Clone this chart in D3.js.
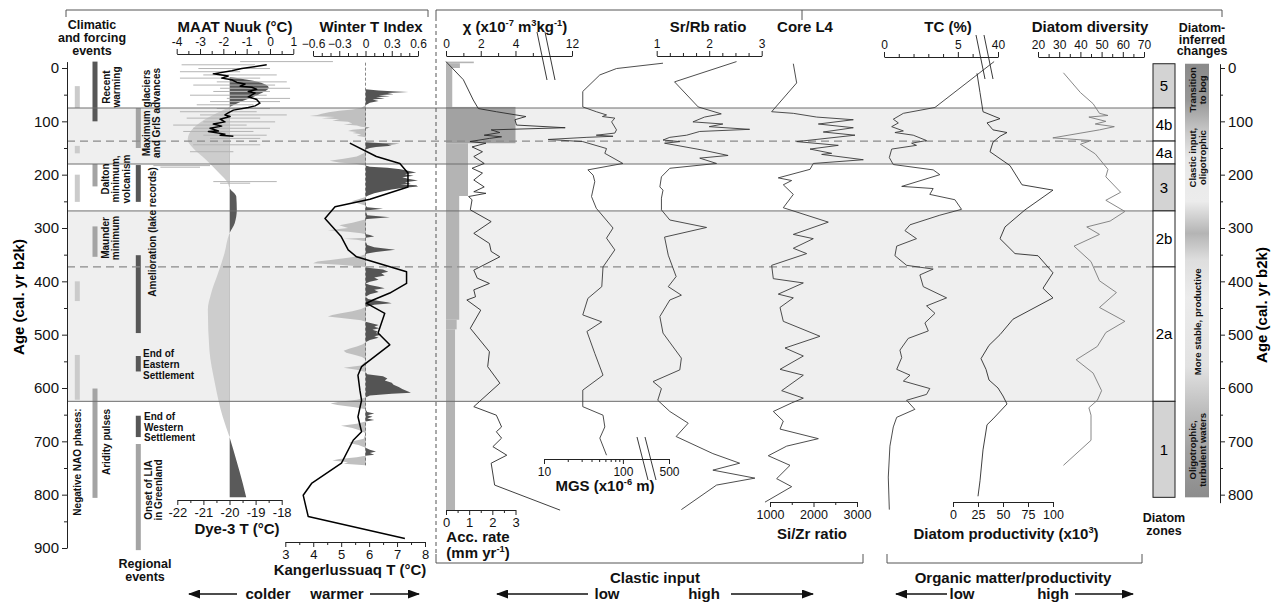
<!DOCTYPE html>
<html><head><meta charset="utf-8">
<script src="https://cdn.jsdelivr.net/npm/d3@7/dist/d3.min.js"></script>
<style>html,body{margin:0;padding:0;background:#fff;}svg{display:block;}</style>
</head><body>
<svg id="chart" width="1271" height="602"></svg>
<script>
// ================= DATA =================
const ageTicks = [0,100,200,300,400,500,600,700,800,900];
const ageMinor = [50,150,250,350,450,550,650,750,850];
const rightAgeTicks = [0,100,200,300,400,500,600,700,800];
const rightAgeMinor = [50,150,250,350,450,550,650,750];

const zoneNames  = ['5','4b','4a','3','2b','2a','1'];
const zoneTop    = [-8,75,137,180,268,373,625];
const zoneBottom = [75,137,180,268,373,625,805];
const zoneGrey   = [true,false,false,true,false,false,true];
const solidBounds  = [75,180,268,625];
const dashedBounds = [137,373];
const bandStart = [75,268];
const bandEnd   = [180,625];

// events: column (0 NAO, 1 forcing, 2 regional), start age, end age, tone (0 light,1 mid,2 dark)
const eventCol   = [0,0,0,0,0, 1,1,1,1, 2,2,2,2,2,2];
const eventStart = [34,146,200,400,538, -12,180,297,601, 75,182,351,540,652,705];
const eventEnd   = [75,160,251,437,622, 100,222,354,806, 150,251,497,569,692,904];
const eventTone  = [0,0,0,0,0, 2,1,1,1, 1,2,2,2,2,1];

// MAAT Nuuk (°C): range bars and smoothed record
const maatRangeAge = [-12,-6,1,7,13,19,26,32,38,44,51,57,63,69,76,82,88,94,101,107,113,119,126,132,144,157,183,186,213,216];
const maatRangeLo  = [-1.28,-3.79,-3.07,-3.86,-2.86,-3.86,-2.28,-3.29,-2.14,-2.43,-3.43,-1.85,-2.57,-3.14,-2.28,-3.86,-3.0,-3.57,-2.86,-4.15,-3.29,-3.72,-2.86,-2.57,-3.29,-3.43,-5.0,-4.7,-2.43,-2.14];
const maatRangeHi  = [2.7,-0.64,0.0,-1.28,0.29,-0.42,0.72,0.22,0.86,0.0,-0.14,0.86,0.43,-0.71,0.0,-0.57,0.72,-0.42,0.22,-1.0,0.0,-0.71,-0.14,-0.42,-0.42,-1.57,-2.57,-3.0,0.29,-0.85];
const maatLine = [[-6,-0.14],[1,-1.21],[5,-1.64],[11,-2.43],[15,-1.79],[19,-2.07],[22,-1.64],[27,-1.42],[30,-1.07],[34,-1.28],[36,-0.78],[40,-0.57],[44,-0.93],[47,-0.64],[54,-0.93],[59,-0.57],[66,-0.43],[71,-0.64],[74,-0.93],[79,-1.57],[84,-1.79],[88,-1.93],[91,-1.71],[96,-2.14],[101,-1.93],[105,-2.43],[109,-2.07],[113,-2.57],[118,-2.21],[119,-2.64],[124,-1.93],[126,-2.14],[128,-1.57]];

// Dye-3 T (°C)
const dye3 = [[17,-20],[25,-19.0],[37,-18.5],[50,-18.9],[62,-19.5],[73,-20],[85,-20.5],[103,-21.15],[122,-21.53],[135,-21.6],[150,-21.4],[172,-20.9],[197,-20.4],[216,-20.06],[225,-20],[241,-19.74],[266,-19.72],[291,-19.8],[310,-20],[347,-20.19],[385,-20.44],[422,-20.7],[453,-20.83],[529,-20.77],[591,-20.56],[654,-20.26],[692,-20],[735,-19.74],[779,-19.49],[805,-19.36]];

// Winter T index
const winterT = [[40,0],[42,0.15],[44,0.35],[45,0.49],[47,0.25],[49,0.32],[51,0.15],[53,0.28],[55,0.12],[57,0.22],[59,0.08],[62,0.15],[65,0.05],[68,0.02],[70,0],
[75,-0.05],[78,-0.15],[80,-0.3],[83,-0.42],[86,-0.5],[88,-0.55],[90,-0.64],[92,-0.35],[94,-0.5],[96,-0.3],[99,-0.38],[101,-0.2],[104,-0.15],[106,-0.25],[108,-0.1],[110,-0.05],[112,0.05],[114,-0.02],[116,-0.15],[118,-0.2],[120,-0.1],[122,-0.15],[124,-0.05],[127,-0.1],[130,0],
[139,0],[141,0.2],[142,0.39],[144,0.25],[146,0.3],[148,0.12],[150,0.05],[153,0],[160,-0.02],[166,-0.1],[170,-0.25],[174,-0.41],[177,-0.3],[180,-0.1],[183,0],
[185,0.05],[187,0.25],[190,0.4],[193,0.5],[196,0.58],[199,0.45],[202,0.55],[205,0.42],[208,0.5],[211,0.6],[214,0.45],[217,0.52],[218,0.4],[220,0.58],[222,0.6],[225,0.42],[228,0.3],[231,0.2],[235,0.1],[239,0.03],[242,0],
[246,-0.08],[250,-0.16],[254,-0.08],[258,0],[261,0.02],[264,0.2],[267,0],[276,0.02],[280,0.28],[283,0.02],[286,-0.05],[290,-0.15],[295,-0.3],[300,-0.2],[304,-0.43],[307,-0.2],[310,-0.05],
[313,0.05],[316,0.1],[318,0.02],[320,-0.25],[322,-0.1],[325,0],[332,0.02],[336,0.1],[341,0.34],[345,0.12],[348,0.02],[352,-0.05],[356,-0.2],[360,-0.4],[363,-0.55],[366,-0.6],[369,-0.3],[372,-0.05],
[375,0.05],[378,0.2],[382,0.26],[385,0.18],[389,0.22],[393,0.1],[397,0.15],[401,0.05],[404,0],[407,0.05],[410,0.15],[413,0.22],[416,0.1],[420,0.15],[424,0.05],[429,0],
[433,0.03],[436,0.12],[439,0.25],[441,0.3],[444,0.1],[448,0],[452,-0.05],[456,-0.15],[460,-0.28],[463,-0.38],[466,-0.43],[469,-0.25],[473,-0.05],
[476,0],[479,0.08],[482,0.15],[485,0.1],[488,0.16],[491,0.08],[494,0.14],[497,0.12],[500,0.18],[503,0.1],[506,0.15],[510,0.05],[514,0],
[518,-0.03],[522,-0.1],[526,-0.18],[530,-0.25],[534,-0.22],[538,-0.12],[542,-0.04],[546,0],[550,0],[558,-0.05],[562,-0.25],[566,-0.1],[570,0],
[574,0.02],[578,0.2],[582,0.25],[586,0.22],[590,0.3],[594,0.32],[598,0.38],[602,0.42],[606,0.48],[609,0.52],[611,0.3],[614,0.05],[618,0],
[622,-0.1],[626,-0.3],[629,-0.4],[632,-0.32],[636,-0.12],[640,0],[645,0.02],[648,0.1],[651,0.02],[654,0.08],[657,0.02],[660,0.1],[663,0],
[667,-0.1],[671,-0.28],[675,-0.15],[680,-0.05],[685,0],[695,-0.02],[699,-0.12],[703,-0.19],[707,-0.08],[712,0],[716,0.05],[719,0.12],[722,0.05],[725,0.1],[727,0],
[730,-0.1],[733,-0.3],[736,-0.38],[739,-0.2],[742,-0.25],[745,0]];

// Kangerlussuaq T (°C)
const kanger = [[141,5.31],[166,6.26],[179,7.1],[197,7.39],[223,7.39],[246,6.03],[260,4.78],[282,4.42],[316,5.0],[341,5.25],[354,5.55],[382,7.34],[404,7.34],[422,6.74],[435,6.14],[441,5.9],[460,6.56],[497,6.32],[519,6.74],[560,5.73],[576,5.6],[604,5.67],[623,5.73],[654,5.6],[682,5.73],[698,5.43],[741,5.01],[779,3.94],[801,3.64],[841,3.82],[882,7.28]];

// Magnetic susceptibility χ
const chi = [[-12,0],[22,1.0],[60,1.57],[76,1.86],[82,2.9],[91,4.6],[97,3.97],[107,4.06],[112,11.6],[116,2.6],[121,3.1],[126,2.2],[129,3.2],[132,2.5],[138,1.38],[141,2.3],[148,1.5],[157,2.1],[166,1.6],[179,2.2],[188,1.5],[197,2.1],[210,1.6],[223,2.2],[232,1.6],[235,2.3],[241,1.3],[247,1.5],[266,1.4],[288,2.6],[310,1.6],[329,2.5],[344,2.6],[354,3.1],[379,1.6],[394,1.8],[404,2.5],[416,1.6],[429,1.7],[435,1.2],[454,2.0],[488,1.4],[532,2.5],[560,2.4],[591,3.1],[635,1.6],[651,2.9],[673,3.2],[682,2.9],[694,3.2],[710,2.7],[726,3.5],[741,2.6],[782,2.8],[829,11.3]];

// Accumulation rate (mm/yr), step starts
const accStart = [-12,-9,0,73,141,240,472,490];
const accRate  = [1.2,0.6,0.27,3.0,0.95,0.57,0.46,0.39];
const accEndAge = 829;

// Mean grain size (µm)
const mgs = [[-9,398],[1,83],[13,51],[44,31],[73,31],[82,46],[88,62],[91,55],[94,79],[101,72],[116,83],[122,79],[126,46],[128,75],[130,35],[134,11.3],[138,31],[151,62],[160,59],[179,100],[191,36],[201,42],[213,44],[241,40],[263,46],[300,75],[319,62],[341,79],[373,56],[410,54],[432,36],[463,31],[476,54],[494,35],[535,44],[576,56],[604,31],[635,31],[651,56],[673,59],[694,51],[726,62]];

// Sr/Rb ratio
const srrb = [[-12,2.52],[26,1.34],[73,1.79],[86,2.23],[92,1.91],[101,1.69],[105,2.26],[110,2.0],[115,2.77],[119,1.82],[126,1.57],[130,1.25],[135,1.12],[138,1.44],[141,1.15],[154,1.88],[164,2.36],[169,1.82],[179,2.14],[188,1.25],[204,1.09],[223,1.06],[229,1.12],[244,1.09],[266,1.09],[285,1.25],[299,1.95],[317,1.15],[351,1.22],[391,1.37],[410,1.22],[426,1.47],[435,1.25],[466,1.06],[497,1.12],[544,1.47],[566,1.44],[588,0.93],[601,1.09],[623,1.02],[644,1.25],[666,1.6],[691,1.37],[723,2.07],[741,2.58],[754,2.07],[769,2.87],[782,2.14],[828,1.47]];

// Si/Zr ratio
const sizr = [[-8,1536],[28,1613],[82,1038],[85,1536],[92,2073],[97,2915],[105,2111],[112,2915],[120,2225],[126,2954],[138,1613],[145,2570],[152,1920],[160,2418],[162,2188],[172,3145],[179,1995],[190,1920],[206,1190],[211,1498],[219,1306],[237,1536],[262,1306],[289,2340],[312,1536],[320,1995],[338,1536],[348,1843],[370,1038],[395,1076],[403,1766],[424,1190],[431,1536],[449,1230],[475,1306],[503,2149],[525,1345],[540,1766],[565,1230],[576,1766],[605,1268],[619,1766],[628,1498],[644,1076],[662,1306],[677,1230],[695,2111],[709,1383],[727,960],[745,1460],[770,1153],[785,1498],[814,885]];

// TC (%)
const tc = [[-12,38.7],[74,3.45],[85,1.31],[96,0.63],[103,0.97],[110,0.52],[118,1.31],[121,0.74],[126,1.98],[136,2.88],[141,1.87],[145,2.2],[152,0.52],[168,0.36],[181,0.63],[191,3.33],[200,3.78],[222,1.2],[226,3.33],[237,3.1],[247,4.8],[265,5.25],[276,3.78],[294,1.76],[305,1.42],[320,2.2],[334,0.86],[352,0.74],[370,1.53],[377,3.33],[388,2.43],[410,2.66],[431,4.24],[446,2.88],[460,3.45],[478,2.77],[493,3.0],[507,1.64],[529,1.08],[543,1.2],[565,0.86],[576,1.76],[587,1.31],[601,3.1],[612,2.88],[623,1.53],[640,2.09],[655,0.86],[673,0.63],[709,0.4],[767,0.29],[828,0.36]];

// Diatom productivity (x10^3)
const prod = [[10,24],[46,27],[82,30],[95,47],[103,34],[116,40],[121,54],[128,47],[139,40],[157,37],[183,57],[219,69],[229,100],[266,72],[298,52],[320,47],[348,62],[352,85],[384,100],[413,90],[431,100],[471,60],[500,47],[520,36],[545,28],[565,33],[585,36],[600,45],[615,50],[630,54],[658,40],[669,34],[716,30],[774,27],[803,25]];

// Diatom diversity
const divers = [[9,32],[46,40],[67,46],[85,49],[89,53],[92,44],[100,52],[105,47],[110,56],[116,49],[131,27],[136,45],[143,40],[161,47],[190,53],[204,52],[233,59],[248,52],[269,61],[287,54],[298,43],[312,49],[334,37],[363,45],[399,49],[421,57],[449,49],[475,61],[496,52],[522,48],[547,38],[572,46],[605,50],[623,48],[637,44],[651,45],[673,45],[698,45],[745,32]];

// ================= DRAWING =================
const FONT = '"Liberation Sans", Arial, Helvetica, sans-serif';
const svg = d3.select('#chart').attr('font-family', FONT);
const defs = svg.append('defs');

const y = d3.scaleLinear().domain([-12, 900]).range([61.6, 548]);
const yR = d3.scaleLinear().domain([-8, 815]).range([y(-8), y(815)]);
const xMAAT = d3.scaleLinear().domain([-4, 1]).range([176.7, 293.3]);
const xDye  = d3.scaleLinear().domain([-22, -18]).range([177.3, 281.7]);
const xWTI  = d3.scaleLinear().domain([-0.6, 0.6]).range([313, 418]);
const xKan  = d3.scaleLinear().domain([3, 8]).range([285.3, 425]);
const xChi  = d3.scaleLinear().domain([0, 5.7, 11, 12]).range([446, 545, 555, 572]);
const xAcc  = d3.scaleLinear().domain([0, 3]).range([446, 515.5]);
const xMGS  = d3.scaleLog().domain([10, 160, 500]).range([544, 639, 669]);
const xSr   = d3.scaleLinear().domain([1, 3]).range([656.7, 761.7]);
const xSi   = d3.scaleLinear().domain([1000, 3000]).range([770, 857]);
const xTC   = d3.scaleLinear().domain([0, 6.5, 37, 40]).range([884, 980, 989, 998]);
const xProd = d3.scaleLinear().domain([0, 100]).range([953, 1053]);
const xDiv  = d3.scaleLinear().domain([20, 70]).range([1038, 1144]);

const bandX0 = 67, bandX1 = 1153;

// shaded zone bands
svg.append('g').selectAll('rect').data(d3.range(bandStart.length)).join('rect')
  .attr('x', bandX0).attr('width', bandX1 - bandX0)
  .attr('y', i => y(bandStart[i])).attr('height', i => y(bandEnd[i]) - y(bandStart[i]))
  .attr('fill', '#efefef');

// event bars
const colX = [77.3, 95, 138.3];
const toneCol = ['#cbcbcb', '#a4a4a4', '#575757'];
svg.append('g').selectAll('rect').data(d3.range(eventStart.length)).join('rect')
  .attr('x', i => colX[eventCol[i]] - 2.5).attr('width', 5)
  .attr('y', i => y(eventStart[i])).attr('height', i => y(eventEnd[i]) - y(eventStart[i]))
  .attr('fill', i => toneCol[eventTone[i]]);

// ---- MAAT / Dye-3 panel ----
const dyeBase = xDye(-20);
defs.append('clipPath').attr('id', 'dyeR').append('rect').attr('x', dyeBase).attr('y', 0).attr('width', 200).attr('height', 602);
defs.append('clipPath').attr('id', 'dyeL').append('rect').attr('x', 0).attr('y', 0).attr('width', dyeBase).attr('height', 602);
const dyeArea = d3.area().curve(d3.curveMonotoneY).y(d => y(d[0])).x0(dyeBase).x1(d => xDye(d[1]));
svg.append('path').datum(dye3).attr('d', dyeArea).attr('fill', '#cdcdcd').attr('clip-path', 'url(#dyeL)');
svg.append('path').datum(dye3).attr('d', dyeArea).attr('fill', '#5a5a5a').attr('clip-path', 'url(#dyeR)');

svg.append('g').selectAll('line').data(d3.range(maatRangeAge.length)).join('line')
  .attr('x1', i => xMAAT(maatRangeLo[i])).attr('x2', i => xMAAT(maatRangeHi[i]))
  .attr('y1', i => y(maatRangeAge[i])).attr('y2', i => y(maatRangeAge[i]))
  .attr('stroke', '#b4b4b4').attr('stroke-width', 1);

// ---- Winter T index ----
const w0 = xWTI(0);
defs.append('clipPath').attr('id', 'wR').append('rect').attr('x', w0).attr('y', 0).attr('width', 100).attr('height', 602);
defs.append('clipPath').attr('id', 'wL').append('rect').attr('x', 250).attr('y', 0).attr('width', w0 - 250).attr('height', 602);
const wArea = d3.area().y(d => y(d[0])).x0(w0).x1(d => xWTI(d[1]));
svg.append('path').datum(winterT).attr('d', wArea).attr('fill', '#c0c0c0').attr('clip-path', 'url(#wL)');
svg.append('path').datum(winterT).attr('d', wArea).attr('fill', '#545454').attr('clip-path', 'url(#wR)');
svg.append('line').attr('x1', w0).attr('x2', w0).attr('y1', y(-10)).attr('y2', y(745))
  .attr('stroke', '#555').attr('stroke-width', 0.7).attr('stroke-dasharray', '3,2');

// ---- Acc. rate steps ----
svg.append('g').selectAll('rect').data(d3.range(accStart.length)).join('rect')
  .attr('x', xAcc(0)).attr('width', i => xAcc(accRate[i]) - xAcc(0))
  .attr('y', i => y(accStart[i]))
  .attr('height', i => y(i < accStart.length - 1 ? accStart[i + 1] : accEndAge) - y(accStart[i]))
  .attr('fill', i => accRate[i] > 2 ? '#a2a2a2' : '#b4b4b4');

// zone boundary lines
svg.append('g').selectAll('line').data(solidBounds).join('line')
  .attr('x1', bandX0).attr('x2', bandX1).attr('y1', d => y(d)).attr('y2', d => y(d))
  .attr('stroke', '#6e6e6e').attr('stroke-width', 1);
svg.append('g').selectAll('line').data(dashedBounds).join('line')
  .attr('x1', bandX0).attr('x2', bandX1).attr('y1', d => y(d)).attr('y2', d => y(d))
  .attr('stroke', '#8a8a8a').attr('stroke-width', 1.2).attr('stroke-dasharray', '8,5');

// ---- data lines ----
function vline(data, xs, color, w) {
  svg.append('path').datum(data)
    .attr('d', d3.line().x(d => xs(d[1])).y(d => y(d[0])))
    .attr('fill', 'none').attr('stroke', color).attr('stroke-width', w).attr('stroke-linejoin', 'round');
}
vline(maatLine, xMAAT, '#000', 1.5);
vline(kanger, xKan, '#000', 1.5);
vline(chi, xChi, '#2a2a2a', 0.9);
vline(mgs, xMGS, '#3a3a3a', 0.9);
vline(srrb, xSr, '#3a3a3a', 0.9);
vline(sizr, xSi, '#3a3a3a', 0.9);
vline(tc, xTC, '#3a3a3a', 0.9);
vline(prod, xProd, '#2a2a2a', 0.9);
vline(divers, xDiv, '#7a7a7a', 0.9);

// ---- zone boxes ----
const zg = svg.append('g');
zg.selectAll('rect').data(d3.range(zoneNames.length)).join('rect')
  .attr('x', 1153).attr('width', 22)
  .attr('y', i => y(zoneTop[i])).attr('height', i => y(zoneBottom[i]) - y(zoneTop[i]))
  .attr('fill', i => zoneGrey[i] ? '#d3d3d3' : '#fff').attr('stroke', '#222').attr('stroke-width', 1);
zg.selectAll('text').data(d3.range(zoneNames.length)).join('text')
  .attr('x', 1164).attr('y', i => y((zoneTop[i] + zoneBottom[i]) / 2)).attr('dy', '0.35em')
  .attr('text-anchor', 'middle').attr('font-size', 15).text(i => zoneNames[i]);

// gradient bar (diatom-inferred changes)
const gradAge  = [-8, 60, 120, 170, 250, 310, 360, 430, 560, 640, 720, 805];
const gradGrey = [138, 150, 200, 232, 236, 180, 222, 236, 226, 190, 160, 140];
const lg = defs.append('linearGradient').attr('id', 'dg').attr('x1', 0).attr('x2', 0).attr('y1', 0).attr('y2', 1);
gradAge.forEach((a, i) => lg.append('stop').attr('offset', (a + 8) / 813)
  .attr('stop-color', d3.rgb(gradGrey[i], gradGrey[i], gradGrey[i]).formatHex()));
svg.append('rect').attr('x', 1185).attr('width', 24).attr('y', y(-8)).attr('height', y(805) - y(-8)).attr('fill', 'url(#dg)');

// ---- text helpers ----
function txt(x, yy, s, fs, weight, anchor) {
  return svg.append('text').attr('x', x).attr('y', yy).attr('font-size', fs)
    .attr('font-weight', weight || 'bold').attr('text-anchor', anchor || 'middle').attr('fill', '#111').text(s);
}
function vlabel(cx, cy, lines, fs, gap, weight) {
  lines.forEach((s, i) => {
    svg.append('text')
      .attr('transform', `translate(${cx + (i - (lines.length - 1) / 2) * gap},${cy}) rotate(-90)`)
      .attr('text-anchor', 'middle').attr('dy', '0.35em').attr('font-size', fs)
      .attr('font-weight', weight || 'bold').attr('fill', '#111').text(s);
  });
}
function supText(x, yy, parts, fs, anchor) {
  const t = svg.append('text').attr('x', x).attr('y', yy).attr('font-size', fs)
    .attr('font-weight', 'bold').attr('text-anchor', anchor || 'middle').attr('fill', '#111');
  parts.forEach(p => {
    if (p[1]) t.append('tspan').attr('font-size', fs * 0.62).attr('dy', -fs * 0.38).text(p[0]);
    else t.append('tspan').attr('dy', p[2] ? fs * 0.38 : 0).text(p[0]);
  });
  return t;
}

vlabel(111, 87, ['Recent', 'warming'], 10, 10);
vlabel(115.5, 179, ['Dalton', 'minimum,', 'volcanism'], 10, 10.5);
vlabel(110, 238, ['Maunder', 'minimum'], 10, 10);
vlabel(151.7, 113, ['Maximum glaciers', 'and GrIS advances'], 10, 10);
vlabel(152.7, 232, ['Amelioration (lake records)'], 10, 10);
vlabel(77.3, 462, ['Negative NAO phases:'], 10, 10);
vlabel(106, 442, ['Aridity pulses'], 10, 10);
vlabel(153.3, 490, ['Onset of LIA', 'in Greenland'], 10, 10);
['End of', 'Eastern', 'Settlement'].forEach((s, i) => txt(143, 357 + i * 11, s, 10, 'bold', 'start'));
['End of', 'Western', 'Settlement'].forEach((s, i) => txt(144, 420 + i * 10.5, s, 10, 'bold', 'start'));
['Climatic', 'and forcing', 'events'].forEach((s, i) => txt(92, 29 + i * 13, s, 12.5));
txt(145, 568, 'Regional', 12.5); txt(145, 581, 'events', 12.5);

// headers
txt(235, 32, 'MAAT Nuuk (°C)', 15);
txt(371, 32, 'Winter T Index', 15);
supText(515, 32, [['χ (x10'], ['-7', 1], [' m', 0, 1], ['3', 1], ['kg', 0, 1], ['-1', 1], [')', 0, 1]], 15);
txt(708, 32, 'Sr/Rb ratio', 15);
txt(805, 32, 'Core L4', 15);
txt(948, 32, 'TC (%)', 15);
txt(1090, 32, 'Diatom diversity', 15);
['Diatom-', 'inferred', 'changes'].forEach((s, i) => txt(1202, 32 + i * 11.5, s, 12.5));
txt(1164, 522, 'Diatom', 12.5); txt(1164, 535, 'zones', 12.5);

vlabel(1197.7, y(41), ['Transition', 'to bog'], 9.5, 10);
vlabel(1197.7, y(168), ['Clastic input,', 'oligotrophic'], 9.5, 10);
vlabel(1197.7, y(476), ['More stable, productive'], 9.5, 10);
vlabel(1197.7, y(716), ['Oligotrophic,', 'turbulent waters'], 9.5, 10);

// bottom titles
txt(237, 534, 'Dye-3 T (°C)', 15);
txt(350, 575, 'Kangerlussuaq T (°C)', 15);
txt(478, 542, 'Acc. rate', 15);
supText(478, 558, [['(mm yr'], ['-1', 1], [')', 0, 1]], 15);
supText(605, 491, [['MGS (x10'], ['-6', 1], [' m)', 0, 1]], 15);
txt(812, 539, 'Si/Zr ratio', 15);
supText(1006, 539, [['Diatom productivity (x10'], ['3', 1], [')', 0, 1]], 15);

// age axis titles
svg.append('text').attr('transform', `translate(19,297) rotate(-90)`).attr('text-anchor', 'middle')
  .attr('dy', '0.35em').attr('font-size', 15).attr('font-weight', 'bold').text('Age (cal. yr b2k)');
svg.append('text').attr('transform', `translate(1262,305) rotate(-90)`).attr('text-anchor', 'middle')
  .attr('dy', '0.35em').attr('font-size', 15).attr('font-weight', 'bold').text('Age (cal. yr b2k)');

// ---- axes ----
function ax(gen, scale, tx, ty, major, minor, fmt, fs) {
  const g = svg.append('g').attr('transform', `translate(${tx},${ty})`);
  g.call(gen(scale).tickValues(major).tickSize(5).tickSizeOuter(0).tickPadding(3).tickFormat(fmt || (d => d)));
  g.attr('font-family', FONT).attr('font-size', fs || 12);
  g.selectAll('path,line').attr('stroke', '#222');
  g.selectAll('text').attr('fill', '#111');
  if (minor && minor.length) {
    const m = svg.append('g').attr('transform', `translate(${tx},${ty})`);
    m.call(gen(scale).tickValues(minor).tickSize(3).tickSizeOuter(0).tickFormat(''));
    m.select('.domain').remove();
    m.selectAll('line').attr('stroke', '#222');
  }
  return g;
}
ax(d3.axisLeft, y, 67, 0, ageTicks, ageMinor, d => d, 15);
ax(d3.axisRight, yR, 1220, 0, rightAgeTicks, rightAgeMinor, d => d, 15);
ax(d3.axisTop, xMAAT, 0, 54, [-4,-3,-2,-1,0,1], [-3.5,-2.5,-1.5,-0.5,0.5]);
ax(d3.axisTop, xWTI, 0, 56, [-0.6,-0.3,0,0.3,0.6], [-0.5,-0.4,-0.2,-0.1,0.1,0.2,0.4,0.5], d => d === 0 ? '0' : d3.format('.1f')(d));
ax(d3.axisTop, xChi, 0, 56, [0,2,4,12], [1,3,5]);
ax(d3.axisTop, xSr, 0, 56, [1,2,3], [1.25,1.5,1.75,2.25,2.5,2.75]);
ax(d3.axisTop, xTC, 0, 57, [0,5,40], [1,2,3,4,6]);
ax(d3.axisTop, xDiv, 0, 57, [20,30,40,50,60,70], [25,35,45,55,65]);
ax(d3.axisBottom, xDye, 0, 500, [-22,-21,-20,-19,-18], [-21.5,-20.5,-19.5,-18.5], d => d, 13);
ax(d3.axisBottom, xKan, 0, 542, [3,4,5,6,7,8], [3.5,4.5,5.5,6.5,7.5], d => d, 13);
ax(d3.axisBottom, xAcc, 0, 510, [0,1,2,3], [0.5,1.5,2.5], d => d, 13);
ax(d3.axisBottom, xMGS, 0, 459, [10,100,500], [20,30,40,50,60,70,80,90], d => d, 12);
ax(d3.axisBottom, xSi, 0, 502, [1000,2000,3000], [1500,2500], d => d, 12.5);
ax(d3.axisBottom, xProd, 0, 502, [0,25,50,75,100], [], d => d, 12.5);

// axis break marks
function brk(x1, y1, x2, y2, dx) {
  [0, dx].forEach(o => svg.append('line').attr('x1', x1 + o).attr('y1', y1).attr('x2', x2 + o).attr('y2', y2)
    .attr('stroke', '#222').attr('stroke-width', 0.9));
}
brk(537, 32, 547, 80, 8);
brk(976, 35, 985, 79, 8);
brk(637, 437, 648, 480, 8);

// brackets & frame lines
const fr = (d, dash) => svg.append('path').attr('d', d).attr('fill', 'none').attr('stroke', '#555')
  .attr('stroke-width', 1).attr('stroke-dasharray', dash || null);
fr('M66,17V10H428V17');
fr('M436,17V10H1222V17');
fr('M802,10V20');
fr('M436,17V555', '4,3');
fr('M436,554V563H863V554');
fr('M887,554V563H1142V554');

// bottom direction labels with arrows
defs.append('marker').attr('id', 'arr').attr('viewBox', '0 0 12 9').attr('refX', 11).attr('refY', 4.5)
  .attr('markerUnits', 'userSpaceOnUse').attr('markerWidth', 12).attr('markerHeight', 9).attr('orient', 'auto')
  .append('path').attr('d', 'M0,0L12,4.5L0,9z').attr('fill', '#111');
function arrow(x1, x2, yy) {
  svg.append('line').attr('x1', x1).attr('x2', x2).attr('y1', yy).attr('y2', yy)
    .attr('stroke', '#111').attr('stroke-width', 1.4).attr('marker-end', 'url(#arr)');
}
txt(268, 599, 'colder', 15); arrow(237, 189, 594);
txt(337, 599, 'warmer', 15); arrow(370, 419, 594);
txt(655, 583, 'Clastic input', 15);
txt(607, 599, 'low', 15); arrow(588, 497, 594);
txt(704, 599, 'high', 15); arrow(731, 813, 594);
txt(1013, 583, 'Organic matter/productivity', 15);
txt(962, 599, 'low', 15); arrow(947, 896, 594);
txt(1053, 599, 'high', 15); arrow(1075, 1133, 594);
</script>
</body></html>
